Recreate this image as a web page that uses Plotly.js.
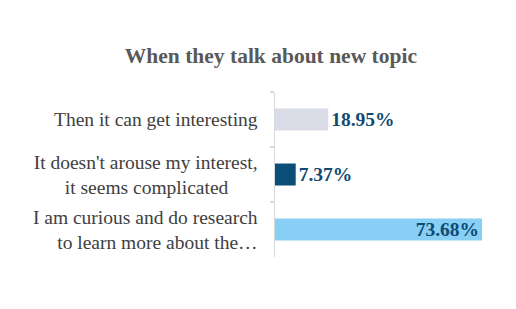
<!DOCTYPE html>
<html><head><meta charset="utf-8">
<script src="https://cdn.plot.ly/plotly-3.0.1.min.js"></script>
<style>html,body{margin:0;padding:0;background:#fff;}#chart{width:516px;height:309px;}</style>
</head><body><div id="chart"></div>
<script>
const categories = ["Then it can get interesting", "It doesn't arouse my interest,<br>it seems complicated\u00A0\u00A0\u00A0\u00A0\u00A0\u00A0", "I am curious and do research<br>to learn more about the…"];
const values = [18.95, 7.37, 73.68];
const labels = ["18.95%", "7.37%", "73.68%"];
const colors = ["#D9DBE7", "#0B4F78", "#87CFF4"];
const positions = ["outside", "outside", "inside"];
const FONT = "'Liberation Serif', 'Times New Roman', Times, serif";

const trace = {
  type: "bar", orientation: "h",
  x: values, y: categories,
  marker: {color: colors},
  width: 0.4,
  text: labels, textposition: positions, insidetextanchor: "end",
  textfont: {family: FONT, size: 19.5, color: "#0E4A72", weight: "bold"},
  textangle: 0, cliponaxis: false, constraintext: "none",
  hoverinfo: "none"
};
const layout = {
  width: 516, height: 309,
  margin: {l: 275, r: 34, t: 92, b: 52},
  paper_bgcolor: "#fff", plot_bgcolor: "#fff",
  title: {text: "When they talk about new topic", x: 0.525, xanchor: "center", y: 0.82, yanchor: "middle",
    font: {family: FONT, size: 21.5, color: "#595959", weight: "bold"}},
  showlegend: false,
  xaxis: {range: [0, 73.68], visible: false, fixedrange: true},
  yaxis: {autorange: "reversed", type: "category", showline: true, linecolor: "#D9D9D9", linewidth: 1.5,
    ticks: "outside", tickson: "boundaries", ticklen: 4, tickcolor: "#D9D9D9", tickwidth: 1.5,
    showgrid: false, ticklabelstandoff: 12,
    tickfont: {family: FONT, size: 19.5, color: "#404040"}}
};
Plotly.newPlot("chart", [trace], layout, {displayModeBar: false, staticPlot: true});
</script></body></html>
